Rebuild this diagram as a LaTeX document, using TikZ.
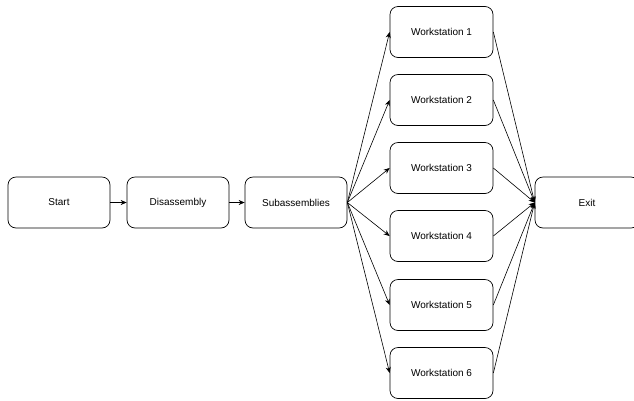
\documentclass[tikz,border=0pt]{standalone}
\usepackage{fontspec}
\setmainfont{Liberation Sans}
\usetikzlibrary{arrows.meta}
\begin{document}
\begin{tikzpicture}[x=1pt,y=-1pt,
  every node/.style={font=\fontsize{10}{12}\selectfont},
  stage/.style={draw,rounded corners=8pt,line width=0.7pt,minimum width=102pt,minimum height=51pt,inner sep=0pt},
  flow/.style={-{Stealth[length=6pt,width=5pt]},line width=0.6pt}]
\useasboundingbox[fill=white] (0,0) rectangle (634,400);
% main line
\node[stage] (start) at (59,202.5) {Start};
\node[stage] (disasm) at (178,202.5) {Disassembly};
\node[stage] (subasm) at (296,202.5) {Subassemblies};
\node[stage,minimum width=104pt] (exit) at (587,202.5) {Exit};
\draw[flow] (start) -- (disasm);
\draw[flow] (disasm) -- (subasm);
% workstations
\foreach \i/\y in {1/32,2/100,3/168,4/236,5/305,6/373}{
  \node[stage,minimum width=103pt] (ws\i) at (441.5,\y) {Workstation \i};
  \draw[flow] (subasm.east) -- (ws\i.west);
  \draw[flow] (ws\i.east) -- (exit.west);
}
\end{tikzpicture}
\end{document}
